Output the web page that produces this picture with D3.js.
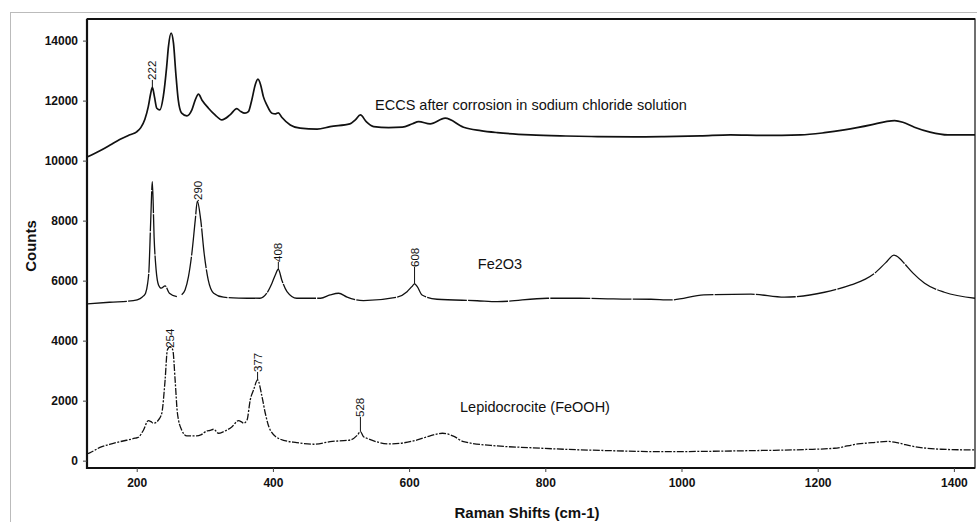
<!DOCTYPE html>
<html>
<head>
<meta charset="utf-8">
<script src="https://cdn.jsdelivr.net/npm/d3@7"></script>
<style>
html,body{margin:0;padding:0;background:#fff;}
svg{display:block;}
text{font-family:"Liberation Sans",Arial,sans-serif;fill:#111;}
</style>
</head>
<body>
<svg id="chart" width="977" height="522"></svg>
<script>
// ---- data (Raman shift, counts) ----
const eccsX = [127,146,161,175,190,200,206,212,217,220.6,223,226,229.5,234,239,244,246.6,250.5,254,257.4,261,266,273.6,281,286,290.7,295.7,305.4,315,325,337,347,352,359,364,369,374,378,382,386,391,398.6,404,408,413,425.5,440,465,484,513,521,528.5,537,548,570,590,605,614,631,653,680,705,729.5,778.5,830,876.5,930,974.5,1028,1072,1120,1175,1210,1239,1280,1300,1313,1325,1342,1365,1391,1431];
const eccsY = [10120,10330,10520,10700,10860,10960,11100,11380,11800,12247,12440,12133,11747,11690,12133,13133,13800,14250,13913,12913,12023,11580,11490,11690,12023,12213,12023,11747,11523,11357,11523,11733,11650,11580,11633,12023,12523,12713,12523,12133,11857,11580,11560,11590,11447,11190,11080,11047,11133,11223,11357,11523,11300,11133,11100,11113,11230,11300,11223,11413,11113,11000,10933,10857,10820,10800,10790,10800,10823,10857,10840,10857,10930,11023,11200,11300,11333,11280,11113,10950,10857,10857];

const fe2o3X = [127,160,195,205,210,213,216,218,220.6,223,225.5,228.5,232,236,241.7,248,259,262,266,271,276,281,286,289,294,299,305,313,327.5,350,381,391,398.6,403.5,408,413,420.7,435,470,484,496.6,509,533,582,597,604,608,612,619,641,700,729.5,803,851,900,955,984,1033,1102,1151,1210,1249,1270,1283.6,1300,1312,1320,1327,1340,1357,1386,1431];
const fe2o3Y = [5223,5280,5333,5400,5490,5580,5900,6357,8023,9300,7467,6357,5857,5747,5823,5580,5467,null,5530,5690,6133,6913,8023,8650,8023,6913,6023,5580,5447,5420,5413,5580,5913,6190,6380,6023,5633,5413,5413,5523,5580,5447,5333,5447,5633,5800,5890,5800,5523,5380,5330,5300,5413,5413,5390,5380,5357,5523,5547,5447,5613,5857,6050,6247,6600,6850,6750,6580,6250,5913,5613,5413];

const lepiX = [127,131,146,160,175.5,197.6,202.5,210,217,221,224.5,229,232,236.8,241.7,245,249,253,256.4,259.8,266,273.6,288,295,303,308,313,320,327.5,340,349.5,354,357,362,366.7,371.6,377.5,384,388.8,396,411,435,460,484,514,524,528.5,533,538,572.6,612,630,649,665,680,729.5,780,827,900,970,1102,1180,1224.5,1259,1280,1303,1320,1337,1381,1431];
const lepiY = [230,260,440,540,633,747,780,1023,1333,1300,1247,1280,1357,1580,2690,3690,3800,3690,2690,1580,1023,823,823,870,990,1010,1047,913,967,1133,1333,1290,1247,1357,2023,2357,2690,2133,1580,1023,713,600,547,633,690,850,967,800,747,557,690,820,913,820,633,490,430,380,330,300,333,370,413,557,600,640,580,490,380,357];

// peak annotations
const peakLabels = ["222","290","408","608","254","377","528"];
const peakX      = [223, 290.5, 408, 608, 249, 377.5, 528.5];
const peakY      = [12440, 8650, 6380, 5890, 3800, 2690, 967];
const peakTextY  = [12690, 8690, 6623, 6457, 3760, 2957, 1457];

// series captions
const captionText = ["ECCS after corrosion in sodium chloride solution","Fe2O3","Lepidocrocite (FeOOH)"];
const captionX    = [531, 500, 535];
const captionY    = [11700, 6380, 1620];

// axis ticks
const xTicks = [200,400,600,800,1000,1200,1400];
const yTicks = [0,2000,4000,6000,8000,10000,12000,14000];

// ---- drawing ----
const svg = d3.select("#chart");
const L = 87, R = 975, T = 19, B = 468;
const x = d3.scaleLinear().domain([127,1431]).range([L,R]);
const y = d3.scaleLinear().domain([-245,14720]).range([B,T]);

// outer frame
svg.append("rect").attr("x",10.5).attr("y",12.5).attr("width",990).attr("height",530)
  .attr("fill","none").attr("stroke","#777").attr("stroke-width",1).attr("stroke-dasharray","1,1");

// plot frame
svg.append("rect").attr("x",L).attr("y",T).attr("width",R-L).attr("height",B-T)
  .attr("fill","none").attr("stroke","#222").attr("stroke-width",1.3);
svg.append("line").attr("x1",L).attr("x2",R).attr("y1",T).attr("y2",T).attr("stroke","#111").attr("stroke-width",2);
svg.append("line").attr("x1",L).attr("x2",L).attr("y1",T).attr("y2",B+1).attr("stroke","#111").attr("stroke-width",2.2);
svg.append("line").attr("x1",L).attr("x2",R).attr("y1",B).attr("y2",B).attr("stroke","#111").attr("stroke-width",2);

// axes
const xAxis = svg.append("g").attr("transform",`translate(0,${B})`)
  .call(d3.axisBottom(x).tickValues(xTicks).tickSize(4).tickPadding(6).tickFormat(d3.format("d")));
const yAxis = svg.append("g").attr("transform",`translate(${L},0)`)
  .call(d3.axisLeft(y).tickValues(yTicks).tickSize(4).tickPadding(5).tickFormat(d3.format("d")));
[xAxis,yAxis].forEach(g=>{
  g.select(".domain").remove();
  g.selectAll(".tick line").attr("stroke","#444").attr("stroke-width",1);
  g.selectAll(".tick text").attr("font-family","Liberation Sans, Arial, sans-serif")
    .attr("font-size",12).attr("font-weight","bold").attr("fill","#111");
});

// axis titles
svg.append("text").attr("x",527).attr("y",518).attr("text-anchor","middle")
  .attr("font-size",15).attr("font-weight","bold").text("Raman Shifts (cm-1)");
svg.append("text").attr("transform","translate(36,246) rotate(-90)").attr("text-anchor","middle")
  .attr("font-size",15).attr("font-weight","bold").text("Counts");

// series
const line = d3.line().defined(d=>d[1]!==null).x(d=>x(d[0])).y(d=>y(d[1])).curve(d3.curveMonotoneX);
function draw(xs, ys, w, dash){
  const pts = xs.map((v,i)=>[v, ys[i]]);
  svg.append("path").datum(pts).attr("d",line).attr("fill","none")
    .attr("stroke","#111").attr("stroke-width",w).attr("stroke-linejoin","round")
    .attr("stroke-dasharray",dash);
}
draw(eccsX, eccsY, 1.7, null);
draw(fe2o3X, fe2o3Y, 1.3, "40,1.2");
draw(lepiX, lepiY, 1.3, "7,1.5,2,1.5");

// peak annotations
peakLabels.forEach((t,i)=>{
  const px = x(peakX[i]);
  svg.append("line").attr("x1",px).attr("x2",px).attr("y1",y(peakY[i])).attr("y2",y(peakTextY[i]))
    .attr("stroke","#111").attr("stroke-width",1);
  svg.append("text").attr("transform",`translate(${px+4},${y(peakTextY[i])}) rotate(-90)`)
    .attr("font-size",11.5).attr("text-anchor","start").text(t);
});

// captions
captionText.forEach((t,i)=>{
  svg.append("text").attr("x",captionX[i]).attr("y",y(captionY[i])).attr("text-anchor","middle")
    .attr("font-size",14.5).attr("fill","#222").text(t);
});
</script>
</body>
</html>
